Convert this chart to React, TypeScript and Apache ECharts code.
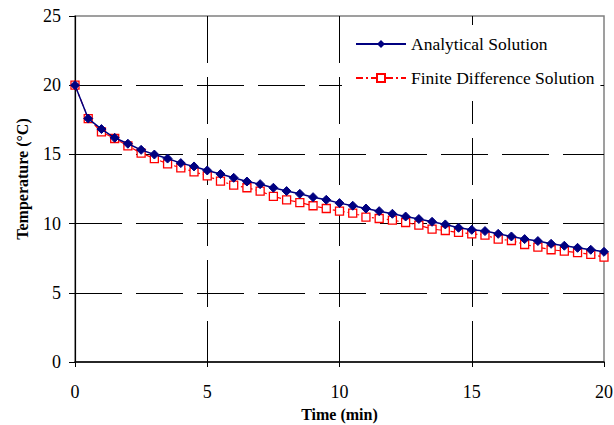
import React, { useEffect, useRef } from "react";
import * as echarts from "echarts";

const times = [
  0, 0.5, 1, 1.5, 2, 2.5, 3, 3.5, 4, 4.5, 5, 5.5, 6, 6.5, 7, 7.5, 8, 8.5, 9, 9.5,
  10, 10.5, 11, 11.5, 12, 12.5, 13, 13.5, 14, 14.5, 15, 15.5, 16, 16.5, 17, 17.5,
  18, 18.5, 19, 19.5, 20,
];

const analytical = [
  20.0, 17.59, 16.83, 16.2, 15.77, 15.33, 14.99, 14.7, 14.37, 14.13, 13.84,
  13.58, 13.31, 13.04, 12.85, 12.59, 12.35, 12.15, 11.91, 11.72, 11.48, 11.29,
  11.09, 10.9, 10.71, 10.51, 10.33, 10.13, 9.94, 9.7, 9.55, 9.46, 9.26, 9.07,
  8.88, 8.74, 8.54, 8.4, 8.25, 8.11, 7.96,
];

const finiteDifference = [
  20.0, 17.59, 16.63, 16.15, 15.62, 15.09, 14.7, 14.32, 14.03, 13.74, 13.45,
  13.07, 12.78, 12.59, 12.35, 11.96, 11.72, 11.52, 11.29, 11.09, 10.9, 10.76,
  10.47, 10.37, 10.25, 10.08, 9.89, 9.6, 9.5, 9.36, 9.26, 9.17, 8.88, 8.78,
  8.49, 8.3, 8.11, 8.01, 7.91, 7.77, 7.58,
];

const seriesNames = ["Analytical Solution", "Finite Difference Solution"];
const xAxisTitle = "Time (min)";
const yAxisTitle = "Temperature (°C)";

const FONT = "'Liberation Serif', 'Times New Roman', serif";

export default function App() {
  const ref = useRef<HTMLDivElement>(null);

  useEffect(() => {
    if (!ref.current) return;
    const chart = echarts.init(ref.current, undefined, { renderer: "svg" });
    const gridDash = { color: "#000", width: 1, type: [47, 14] as any };
    chart.setOption({
      animation: false,
      backgroundColor: "#fff",
      textStyle: { fontFamily: FONT },
      grid: {
        left: 75,
        right: 10,
        top: 16,
        bottom: 63,
        containLabel: false,
        outerBoundsMode: "none",
        show: true,
        borderColor: "#808080",
        borderWidth: 1.5,
        backgroundColor: "transparent",
      },
      legend: {
        data: seriesNames,
        orient: "vertical",
        left: 342,
        top: 25,
        itemWidth: 50,
        itemHeight: 10,
        itemGap: 16,
        padding: [10, 6, 14, 13],
        backgroundColor: "#fff",
        textStyle: { fontFamily: FONT, fontSize: 17.5, color: "#000" },
      },
      xAxis: {
        type: "value",
        min: 0,
        max: 20,
        interval: 5,
        name: xAxisTitle,
        nameLocation: "middle",
        nameGap: 44,
        nameTextStyle: { fontFamily: FONT, fontSize: 16, fontWeight: "bold", color: "#000" },
        axisLine: { show: true, lineStyle: { color: "#000", width: 1.5 } },
        axisTick: { show: true, length: 5, lineStyle: { color: "#000" } },
        axisLabel: { fontFamily: FONT, fontSize: 18, color: "#000", margin: 21 },
        splitLine: { show: true, showMinLine: false, showMaxLine: false, lineStyle: gridDash },
      },
      yAxis: {
        type: "value",
        min: 0,
        max: 25,
        interval: 5,
        name: yAxisTitle,
        nameLocation: "middle",
        nameGap: 45,
        nameTextStyle: {
          fontFamily: FONT,
          fontSize: 16,
          fontWeight: "bold",
          color: "#000",
          padding: [0, 0, 0, 20],
        },
        axisLine: { show: true, lineStyle: { color: "#000", width: 1.2 } },
        axisTick: { show: true, length: 6, lineStyle: { color: "#000" } },
        axisLabel: { fontFamily: FONT, fontSize: 18, color: "#000", margin: 14 },
        splitLine: { show: true, showMinLine: false, showMaxLine: false, lineStyle: gridDash },
      },
      series: [
        {
          name: seriesNames[1],
          type: "line",
          data: times.map((t, i) => [t, finiteDifference[i]]),
          symbol: "rect",
          symbolSize: 8,
          lineStyle: { color: "#ff0000", width: 1.2, type: [7, 3, 2, 3] },
          itemStyle: { color: "#fff", borderColor: "#ff0000", borderWidth: 1.3 },
          z: 2,
        },
        {
          name: seriesNames[0],
          type: "line",
          data: times.map((t, i) => [t, analytical[i]]),
          symbol: "diamond",
          symbolSize: 9,
          lineStyle: { color: "#000080", width: 1.5 },
          itemStyle: { color: "#000080", borderColor: "#000080" },
          z: 3,
        },
      ],
    });
    return () => chart.dispose();
  }, []);

  return (
    <div
      ref={ref}
      style={{ position: "fixed", left: 0, top: 0, width: 614, height: 425, background: "#fff" }}
    />
  );
}
